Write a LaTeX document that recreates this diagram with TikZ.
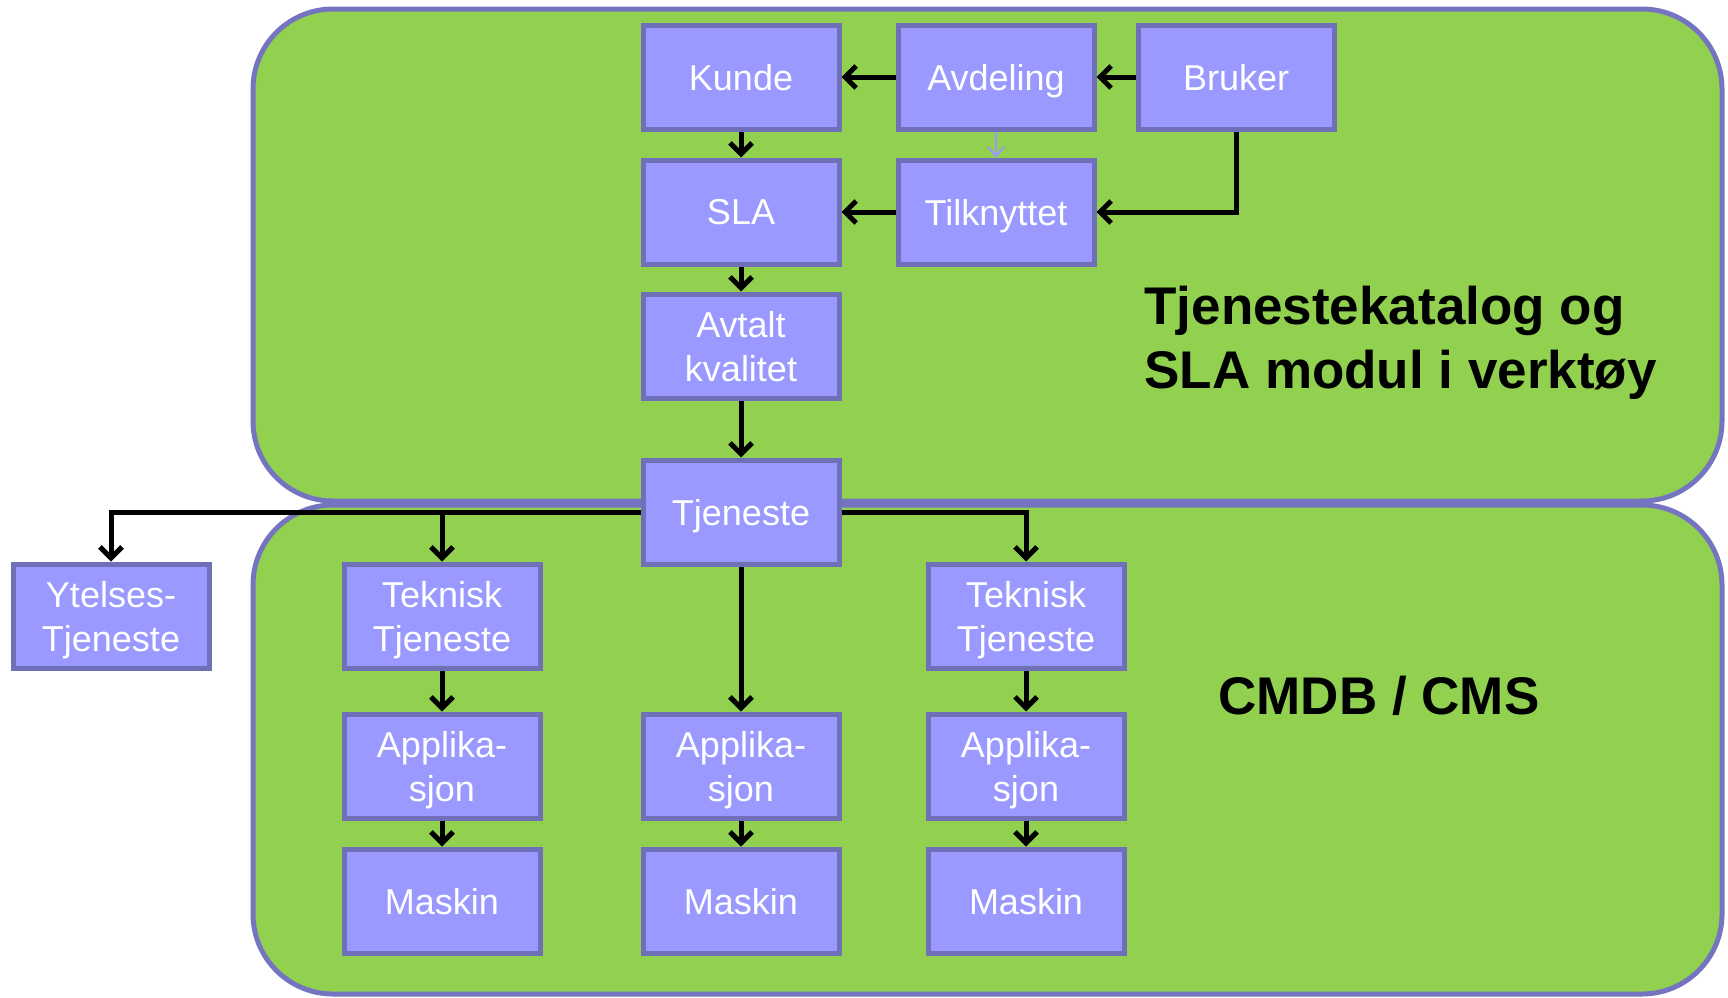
\documentclass[tikz,border=0pt]{standalone}
\usepackage{fontspec}
\setmainfont{Liberation Sans}
\usetikzlibrary{arrows.meta}
\definecolor{panel}{RGB}{146,208,80}
\definecolor{panelline}{RGB}{116,116,192}
\definecolor{boxfill}{RGB}{153,153,255}
\definecolor{boxline}{RGB}{112,112,184}
\begin{document}
\begin{tikzpicture}[x=0.5pt,y=-0.5pt,
  panelbox/.style={fill=panel,draw=panelline,line width=2.5pt,rounded corners=40pt},
  entity/.style={rectangle,fill=boxfill,draw=boxline,line width=2.5pt,
    minimum width=98pt,minimum height=52pt,text=white,text depth=0pt,
    font=\fontsize{18}{22}\selectfont,align=center,inner sep=0pt},
  flow/.style={draw=black,line width=2.5pt,-{Straight Barb[length=5.5pt,width=11pt]}},
  hint/.style={draw=boxfill,line width=1pt,-{Straight Barb[length=4.5pt,width=8pt]}},
  title/.style={font=\bfseries\fontsize{26.5}{32}\selectfont,text=black,align=left,inner sep=0pt}]
\useasboundingbox (0,0) rectangle (1728,997);

% the two layers
\draw[panelbox] (253,505) rectangle (1722,994);
\draw[panelbox] (253,9) rectangle (1722,501);

% service catalogue layer
\node[entity] (kunde)    at (741,77)  {Kunde};
\node[entity] (avdeling) at (996,77)  {Avdeling};
\node[entity] (bruker)   at (1236,77) {Bruker};
\node[entity] (sla)      at (741,212) {SLA};
\node[entity] (tilk)     at (996,212) {Tilknyttet};
\node[entity] (avtalt)   at (741,346) {Avtalt\\kvalitet};
\node[entity] (tjeneste) at (741,512) {Tjeneste};

% CMDB layer
\node[entity] (ytelse) at (111,616)  {Ytelses-\\Tjeneste};
\node[entity] (tekl)   at (442,616)  {Teknisk\\Tjeneste};
\node[entity] (tekr)   at (1026,616) {Teknisk\\Tjeneste};
\node[entity] (appl)   at (442,766)  {Applika-\\sjon};
\node[entity] (appm)   at (741,766)  {Applika-\\sjon};
\node[entity] (appr)   at (1026,766) {Applika-\\sjon};
\node[entity] (maskl)  at (442,901)  {Maskin};
\node[entity] (maskm)  at (741,901)  {Maskin};
\node[entity] (maskr)  at (1026,901) {Maskin};

% layer titles
\node[title,anchor=west] (katalog) at (1144,343) {Tjenestekatalog og\\SLA modul i verktøy};
\node[title] (cmdb) at (1379,696) {CMDB / CMS};

% relations
\draw[flow] (avdeling) -- (kunde);
\draw[flow] (bruker) -- (avdeling);
\draw[flow] (kunde) -- (sla);
\draw[flow] (tilk) -- (sla);
\draw[flow] (bruker.south) |- (tilk.east);
\draw[hint] (avdeling) -- (tilk);
\draw[flow] (sla) -- (avtalt);
\draw[flow] (avtalt) -- (tjeneste);
\draw[flow] (tjeneste.west) -| (ytelse.north);
\draw[flow] (tjeneste.west) -| (tekl.north);
\draw[flow] (tjeneste.east) -| (tekr.north);
\draw[flow] (tjeneste) -- (appm);
\draw[flow] (tekl) -- (appl);
\draw[flow] (tekr) -- (appr);
\draw[flow] (appl) -- (maskl);
\draw[flow] (appm) -- (maskm);
\draw[flow] (appr) -- (maskr);
\end{tikzpicture}
\end{document}
